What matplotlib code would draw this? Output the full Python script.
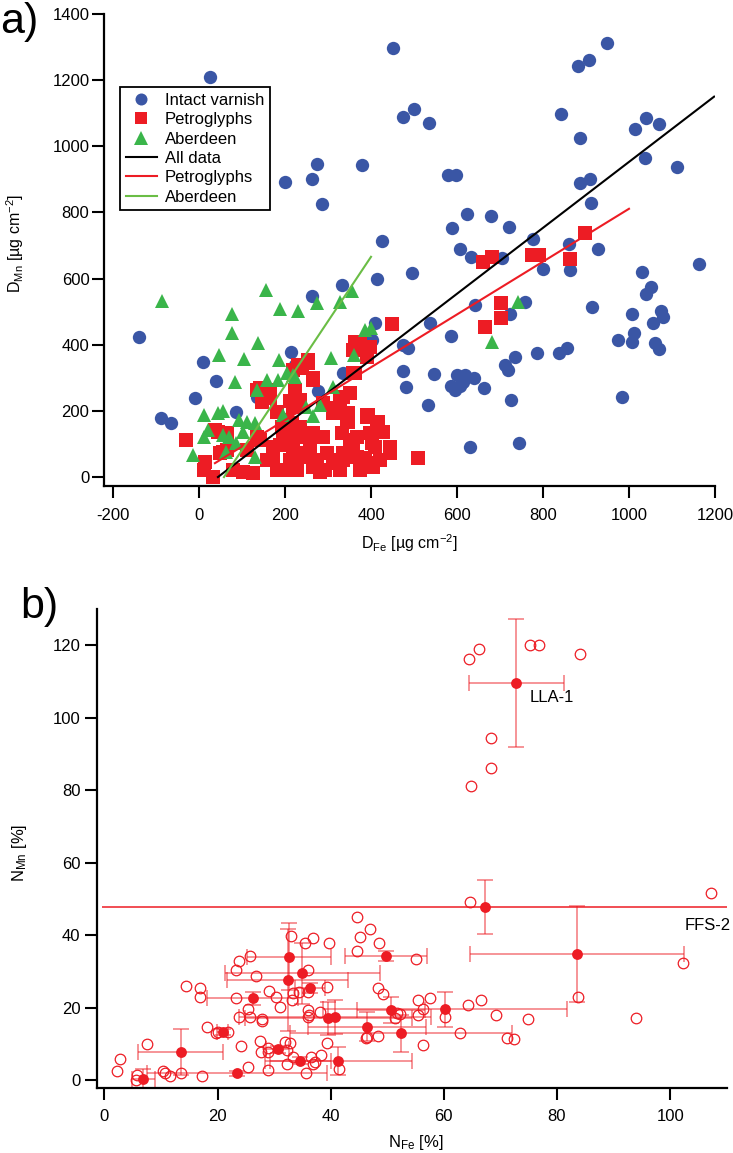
import numpy as np
import matplotlib
matplotlib.use("Agg")
import matplotlib.pyplot as plt

plt.rcParams['font.family'] = ['Liberation Sans', 'DejaVu Sans']
plt.rcParams['mathtext.fontset'] = 'custom'
plt.rcParams['mathtext.rm'] = 'Liberation Sans'
plt.rcParams['mathtext.it'] = 'Liberation Sans:italic'
plt.rcParams['axes.unicode_minus'] = False

BLUE = '#3A56A5'
RED = '#ED1C24'
GREEN = '#3AB54A'
LGREEN = '#6ABD45'

# ---------------- panel a data (D_Fe, D_Mn in ug cm-2) ----------------
varnish_fe = [26, 200, 263, 274, 286, 379, 332, 262,
              451, 949, 882, 907, 475, 500, 535, 842, 886, 1014, 1040, 1070, 1037, 1112,
              579, 598, 886, 909, 912, 623, 679, 588, 721, 426, 607, 633, 705, 777, 861, 928,
              800, 863, 495, 414, 1030, 1163, 1051, 1040,
              642, 758, 914, 409, 537, 723, 1007, 1074, 1079, 1056, 1012, 975, 1007, 1061, 1070,
              402, 474, 486, 586, 735, 712, 719, 786, 837, 856, 474, 547, 600, 619, 640, 586,
              607, 595, 614, 663, 481, 533, 726, 984, 630, 744,
              -139, -89, -65, 9, 40, -9, 86, 214, 277, 223, 135, 335, 393]
varnish_mn = [1210, 893, 902, 947, 824, 944, 581, 548,
              1298, 1313, 1244, 1262, 1089, 1113, 1071, 1098, 1026, 1053, 1086, 1068, 965, 938,
              914, 914, 890, 902, 829, 796, 790, 753, 756, 714, 690, 666, 663, 720, 705, 690,
              629, 626, 617, 599, 620, 645, 575, 553,
              520, 530, 515, 466, 466, 493, 493, 502, 484, 466, 436, 415, 409, 405, 387,
              415, 399, 390, 427, 363, 339, 324, 375, 375, 390, 321, 312, 309, 309, 300, 275,
              275, 263, 287, 269, 272, 218, 233, 242, 91, 103,
              423, 179, 163, 348, 291, 240, 197, 378, 260, 339, 242, 315, 424]

petro_fe = [660, 681, 774, 791, 863, 898, 702, 702, 665, 449, 509,
            363, 398, 370, 254, 230, 363, 265, 335, 288, 321, 347, 347, 391, 414, 428,
            228, 251, 274, 333, 367, 358, 402, 444, 444, 219, 242, 274, 298, 312, 335,
            367, 386, 405, 421, 228, 281, 328, 374, 258, 258, 351, 398,
            -30, 44, 14, 33, 12, 56, 79, 102, 126, 142, 165, 223, 235, 219, 254, 265, 240,
            181, 205, 193, 142, 172, 195, 235, 265, 288, 158, 181, 212, 235, 265, 293,
            312, 335, 358, 381, 312, 344, 328, 351, 391, 374, 358, 391, 358,
            37, 49, 65, 135, 147, 165, 219, 135, 188, 216, 228, 172, 195, 228, 112, 65,
            393, 416, 444, 409, 405, 212, 225]
petro_mn = [651, 666, 672, 672, 660, 738, 527, 481, 454, 463, 58,
            408, 393, 390, 354, 339, 315, 300, 242, 224, 209, 194, 166, 188, 166, 136,
            148, 133, 121, 133, 121, 91, 103, 91, 73, 82, 61, 51, 73, 42, 51,
            61, 58, 42, 51, 21, 15, 21, 21, 121, 91, 112, 133,
            112, 136, 45, 0, 21, 76, 21, 15, 12, 269, 239, 263, 233, 212, 345, 293, 330,
            197, 172, 151, 112, 91, 121, 151, 133, 121, 51, 21, 51, 73, 30, 21,
            51, 73, 91, 42, 194, 172, 233, 254, 182, 405, 384, 363, 315,
            142, 73, 82, 263, 227, 263, 324, 121, 97, 163, 121, 51, 21, 61, 82, 133,
            188, 166, 88, 91, 30, 230, 215]

aber_fe = [-86, 156, 188, 230, 274, 328, 356, 77, 77, 137, 47, 105, 186, 307, 361, 385, 400,
           84, 135, 158, 184, 205, 223, 312, 12, 44, 56, 93, 112, 130, 21, 12, 56, 70, 102,
           195, 249, 265, 281, -14, 63, 130, 86, 219, 742, 681]
aber_mn = [532, 566, 508, 502, 526, 530, 563, 493, 436, 405, 369, 357, 354, 360, 369, 445, 451,
           287, 263, 293, 293, 315, 303, 272, 188, 194, 200, 172, 166, 163, 142, 121, 127, 121, 136,
           188, 212, 185, 218, 67, 76, 61, 103, 309, 530, 409]

# fitted lines: slope, intercept, x start, x end
fit_names = ['All data', 'Petroglyphs', 'Aberdeen']
fit_slope = [0.9965, 0.7985, 1.947]
fit_icpt = [-43.8, 12.5, -113.0]
fit_x0 = [44, 37, 58]
fit_x1 = [1198, 1000, 400]
fit_cols = ['black', RED, LGREEN]

# ---------------- panel b data (N_Fe, N_Mn in %) ----------------
ind_fe = [2.7, 2.2, 5.7, 5.6, 7.5, 10.3, 10.7, 11.6, 13.6, 14.5, 16.9, 16.9, 17.2, 18.2, 19.7,
          20.1, 21.9, 23.2, 23.7, 23.2, 23.7, 24.1, 25.3, 25.4, 25.8, 25.7, 26.8, 27.5, 27.7,
          27.8, 27.9, 28.9, 29.0, 28.9, 29.1, 30.4, 31.0, 31.9, 32.3, 32.8, 32.3, 33.0, 33.1,
          33.4, 33.3, 34.4, 35.4, 35.6, 36.0, 35.9, 36.0, 36.2, 36.0, 36.9, 36.6, 37.2, 36.9,
          38.1, 38.2, 39.4, 39.3, 39.7, 41.5, 44.6, 44.6, 45.2, 46.4, 46.9, 48.6, 64.6, 107.2,
          55.1, 102.2, 48.4, 49.2, 55.5, 57.5, 56.3, 55.5, 51.4, 51.7, 52.2, 60.2, 64.3, 66.5,
          69.2, 74.9, 83.8, 94.0, 46.2, 48.4, 62.9, 71.2, 72.4, 56.3,
          64.4, 66.2, 75.2, 76.9, 84.0, 68.4, 68.4, 64.8]
ind_mn = [5.8, 2.7, 1.5, 0.1, 10.0, 2.7, 1.9, 1.2, 1.9, 26.0, 25.4, 22.9, 1.2, 14.6, 13.1,
          13.4, 13.4, 30.4, 32.9, 22.6, 17.4, 9.5, 3.6, 19.6, 17.5, 34.3, 28.8, 10.9, 7.9,
          16.9, 16.4, 2.8, 8.8, 7.9, 24.7, 22.9, 20.3, 10.6, 8.4, 10.2, 4.5, 39.8, 22.2,
          24.0, 6.5, 24.4, 37.8, 2.1, 30.4, 24.4, 19.4, 18.0, 17.4, 39.3, 6.5, 5.1, 4.5,
          18.9, 7.0, 25.8, 10.2, 37.8, 3.0, 45.0, 35.8, 39.5, 12.0, 41.7, 37.8, 49.3, 51.6,
          33.4, 32.4, 25.5, 23.7, 22.2, 22.6, 19.6, 18.0, 17.1, 18.5, 18.3, 17.4, 20.8, 22.2,
          18.0, 16.9, 23.1, 17.3, 11.8, 12.2, 13.0, 11.8, 11.3, 9.7,
          116.2, 119.1, 120.2, 120.2, 117.6, 94.4, 86.1, 81.3]

# site means with standard deviations
mean_fe = [6.9, 13.5, 20.9, 23.4, 26.2, 30.6, 32.4, 32.6, 34.6, 35.0, 36.3, 39.6, 40.8,
           41.3, 46.4, 49.8, 50.7, 52.4, 60.2, 67.2, 72.8, 83.6]
mean_mn = [0.4, 7.9, 13.4, 1.9, 22.6, 8.6, 27.7, 34.1, 5.4, 29.5, 25.5, 17.1, 17.6,
           5.4, 14.8, 34.4, 19.4, 13.0, 19.6, 47.9, 109.7, 34.8]
sd_fe = [2.0, 7.5, 1.0, 15.9, 8.1, 2.0, 10.7, 7.4, 5.4, 13.7, 2.7, 14.7, 17.0,
         13.0, 10.4, 7.3, 6.0, 19.6, 21.6, 67.7, 8.4, 18.9]
sd_mn = [2.6, 6.3, 0.8, 0.6, 1.9, 1.0, 14.2, 9.2, 1.0, 8.5, 1.5, 4.6, 4.7,
         3.9, 4.0, 1.4, 3.7, 5.1, 4.8, 7.4, 17.7, 13.3]
site_names = ['LLA-1', 'FFS-2']
site_lab_x = [75.2, 102.6]
site_lab_y = [105.7, 42.8]

fig = plt.figure(figsize=(7.33, 11.53), dpi=100)


def style_axes(ax, xpad, ypad):
    for s in ['top', 'right']:
        ax.spines[s].set_visible(False)
    for s in ['left', 'bottom']:
        ax.spines[s].set_linewidth(1.6)
    ax.tick_params(direction='out', length=8.5, width=1.5, labelsize=12)
    ax.tick_params(axis='x', pad=xpad)
    ax.tick_params(axis='y', pad=ypad)


# ---------------- panel a ----------------
ax1 = fig.add_axes([0.1419, 0.5785, 0.8335, 0.4094])
ax1.plot(varnish_fe, varnish_mn, 'o', color=BLUE, ms=9.6, mew=0, label='Intact varnish')
ax1.plot(petro_fe, petro_mn, 's', color=RED, ms=9.4, mew=0, label='Petroglyphs')
ax1.plot(aber_fe, aber_mn, '^', color=GREEN, ms=10.5, mew=0, label='Aberdeen')
for i in range(3):
    xx = np.array([fit_x0[i], fit_x1[i]])
    ax1.plot(xx, fit_slope[i] * xx + fit_icpt[i], color=fit_cols[i], lw=1.5, label=fit_names[i])

ax1.set_xlim(-221, 1200)
ax1.set_ylim(-27, 1400)
ax1.set_xticks(np.arange(-200, 1201, 200))
ax1.set_yticks(np.arange(0, 1401, 200))
style_axes(ax1, 7, 2)
ax1.set_xlabel(r'D$_{\mathrm{Fe}}$ [µg cm$^{\mathrm{-2}}$]', fontsize=11.5)
ax1.set_ylabel(r'D$_{\mathrm{Mn}}$ [µg cm$^{\mathrm{-2}}$]', fontsize=11.5)
ax1.xaxis.set_label_coords(0.5, -0.098)
ax1.yaxis.set_label_coords(-0.128, 0.515)

leg = ax1.legend(loc='upper left', bbox_to_anchor=(0.1637, 0.9245), bbox_transform=fig.transFigure,
                 borderaxespad=0, fontsize=12, handlelength=1.85, handletextpad=0.5,
                 labelspacing=0.26, borderpad=0.35, fancybox=False, framealpha=1,
                 edgecolor='black', markerscale=0.9)
leg.get_frame().set_linewidth(1.3)

# ---------------- panel b ----------------
ax2 = fig.add_axes([0.1327, 0.0566, 0.8587, 0.4150])
ax2.plot(ind_fe, ind_mn, 'o', mfc='none', mec=RED, ms=7.6, mew=0.9)

mean_fe = np.array(mean_fe)
mean_mn = np.array(mean_mn)
sd_fe = np.array(sd_fe)
big = sd_fe > 50
ax2.errorbar(mean_fe, mean_mn, yerr=sd_mn, fmt='none', ecolor=RED, elinewidth=1.1,
             capsize=6, capthick=1.1, alpha=0.6)
ax2.errorbar(mean_fe[~big], mean_mn[~big], xerr=sd_fe[~big], fmt='none', ecolor=RED,
             elinewidth=1.1, capsize=6, capthick=1.1, alpha=0.6)
ax2.errorbar(mean_fe[big], mean_mn[big], xerr=sd_fe[big], fmt='none', ecolor=RED,
             elinewidth=1.1, capsize=0)
ax2.plot(mean_fe, mean_mn, 'o', color=RED, ms=7.8, mew=0)
for i in range(len(site_names)):
    ax2.text(site_lab_x[i], site_lab_y[i], site_names[i], fontsize=12, va='center', ha='left')

ax2.set_xlim(-1.27, 110)
ax2.set_ylim(-2.04, 130)
ax2.set_xticks(np.arange(0, 101, 20))
ax2.set_yticks(np.arange(0, 121, 20))
style_axes(ax2, 7, 3.5)
ax2.set_xlabel(r'N$_{\mathrm{Fe}}$ [%]', fontsize=12)
ax2.set_ylabel(r'N$_{\mathrm{Mn}}$ [%]', fontsize=12)
ax2.xaxis.set_label_coords(0.5056, -0.095)
ax2.yaxis.set_label_coords(-0.108, 0.49)

# panel letters
fig.text(0.0, 0.998, 'a)', fontsize=31, va='top', ha='left')
fig.text(0.028, 0.491, 'b)', fontsize=31, va='top', ha='left')

fig.savefig('out.png', dpi=100)
